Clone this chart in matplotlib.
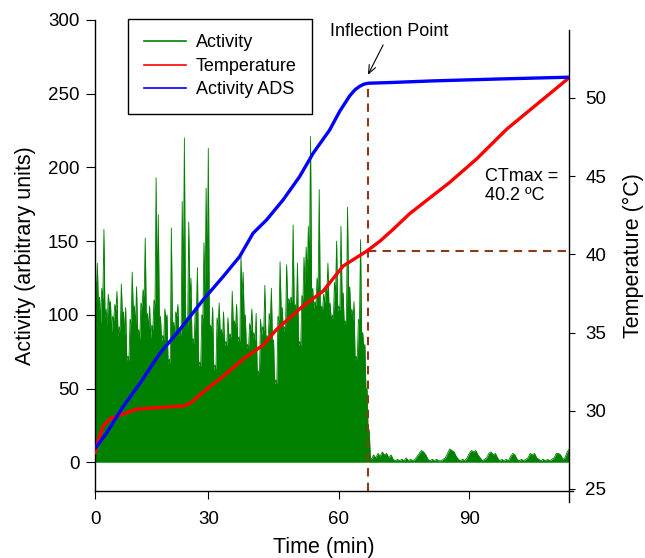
import numpy as np
import matplotlib.pyplot as plt
from matplotlib.lines import Line2D

plt.rcParams['font.family'] = ['Liberation Sans', 'DejaVu Sans']

# activity while moving: one peak every 0.5 min from the start of the record,
# each followed by the lower level reached before the next one
ACT_T0 = 4.0
activity_peaks = [
    126, 135, 112, 118, 158, 104, 114, 109, 99, 107,
    116, 92, 121, 102, 105, 72, 97, 129, 106, 119,
    90, 108, 117, 152, 101, 106, 93, 110, 193, 168,
    99, 86, 104, 100, 70, 159, 95, 102, 107, 89,
    177, 220, 98, 163, 125, 84, 105, 132, 68, 100,
    149, 186, 213, 93, 105, 66, 98, 108, 90, 102,
    82, 98, 87, 116, 96, 107, 85, 140, 129, 100,
    80, 94, 104, 88, 101, 62, 97, 92, 120, 86,
    101, 118, 83, 56, 99, 136, 105, 92, 134, 111,
    112, 161, 107, 135, 82, 113, 139, 146, 160, 221,
    118, 109, 125, 185, 106, 114, 119, 135, 108, 100,
    122, 150, 106, 160, 115, 96, 173, 119, 104, 109,
    72, 97, 151, 88, 80, 50, 22,
]
activity_between = [
    117, 102, 94, 110, 98, 92, 106, 88, 96, 103,
    85, 89, 99, 86, 69, 69, 94, 102, 91, 87,
    83, 105, 112, 95, 90, 84, 90, 107, 114, 93,
    82, 83, 97, 67, 67, 92, 88, 99, 85, 86,
    118, 95, 92, 110, 81, 80, 101, 65, 65, 97,
    116, 122, 90, 88, 63, 63, 93, 86, 83, 79,
    79, 84, 84, 92, 90, 82, 82, 112, 97, 77,
    77, 89, 84, 82, 59, 59, 86, 89, 83, 82,
    96, 80, 53, 53, 96, 102, 88, 89, 108, 108,
    109, 104, 102, 79, 79, 110, 120, 126, 132, 114,
    104, 106, 118, 103, 102, 108, 116, 104, 96, 97,
    114, 102, 103, 112, 93, 93, 116, 100, 96, 69,
    69, 94, 85, 77, 47, 18, 3,
]

# residual activity after the inflection point, every 0.5 min
REST_T0 = 67.5
activity_rest = [
    2, 5, 3, 6, 4, 7, 5, 6, 3, 5, 2, 1, 2, 1, 2, 1, 3, 1, 2, 1,
    2, 4, 6, 8, 7, 5, 2, 1, 2, 1, 2, 1, 1, 2, 3, 6, 9, 8, 7, 4,
    2, 1, 2, 1, 3, 6, 8, 7, 8, 5, 3, 1, 2, 3, 6, 7, 5, 6, 3, 1,
    2, 1, 2, 1, 4, 6, 5, 2, 1, 2, 1, 2, 3, 6, 5, 6, 3, 2, 1, 2,
    1, 2, 1, 2, 3, 6, 6, 5, 2, 3, 7, 9,
]

# accumulated activity (ADS)
ads_time = [4.0, 6.6, 10.4, 14.3, 18.9, 23.4, 28.8, 33.4, 37.2, 40.3, 43.4,
            47.2, 51.0, 54.1, 57.9, 60.2, 62.5, 63.7, 64.8, 65.8, 66.7, 72.0,
            81.7, 97.0, 113.0]
ads_value = [9.5, 19.7, 37.7, 53.6, 74.0, 89.8, 110.1, 125.9, 139.5, 155.4, 164.4,
             178.0, 193.8, 209.6, 225.4, 238.0, 248.5, 252.6, 255.0, 256.5, 257.1, 257.6,
             258.7, 260.0, 261.2]

# water temperature (deg C)
temp_time = [4.0, 4.7, 5.8, 7.4, 8.5, 13.5, 18.1, 24.2, 25.7, 27.2, 28.8, 33.4,
             38.0, 42.6, 45.7, 51.8, 56.4, 61.0, 64.1, 66.4, 69.5, 72.5, 76.3,
             85.5, 91.7, 98.6, 113.0]
temp_value = [27.3, 28.1, 29.0, 29.5, 29.6, 30.1, 30.2, 30.3, 30.45, 30.8, 31.2, 32.2,
              33.3, 34.2, 35.2, 36.7, 37.65, 39.25, 39.8, 40.2, 40.85, 41.6, 42.6,
              44.6, 46.1, 48.0, 51.3]

T_INFLECTION = 66.7
CTMAX = 40.2

activity = np.column_stack([activity_peaks, activity_between]).ravel()
act_time = ACT_T0 + 0.25 * np.arange(len(activity))
rest_time = REST_T0 + 0.5 * np.arange(len(activity_rest))
all_time = np.concatenate([act_time, rest_time])
all_activity = np.concatenate([activity, activity_rest])

fig = plt.figure(figsize=(6.45, 5.58), dpi=100)
ax = fig.add_axes([95.3 / 645, 1 - 490.7 / 558, 474 / 645, 470.7 / 558])
ax2 = ax.twinx()

ax.set_xlim(4.02, 113.0)
ax.set_ylim(-19.3, 300)
ax2.set_ylim(24.89, 54.98)

green = '#008000'
brown = '#8b3a1a'
ads_at_inflection = np.interp(T_INFLECTION, ads_time, ads_value)

ax.fill_between(all_time, 0, all_activity, color=green, lw=0, zorder=1)
ax.plot(all_time, all_activity, color=green, lw=0.6, zorder=1)
ax.plot([T_INFLECTION, T_INFLECTION], [-19.3, ads_at_inflection], color=brown,
        lw=1.5, ls=(0, (4, 3)), zorder=2)
ax.plot([T_INFLECTION, 113.0], [CTMAX, CTMAX], color=brown, lw=1.5,
        ls=(0, (4, 3)), transform=ax2.transData, zorder=2)
ax.plot(temp_time, temp_value, color='#ff0000', lw=2.4, transform=ax2.transData,
        zorder=3, solid_capstyle='round', solid_joinstyle='round')
ax.plot(ads_time, ads_value, color='#0000ff', lw=2.4, zorder=4,
        solid_capstyle='round', solid_joinstyle='round')

# spines and ticks
for s in ['top', 'right']:
    ax.spines[s].set_visible(False)
for s in ['top', 'left', 'bottom']:
    ax2.spines[s].set_visible(False)
ax.spines['left'].set_linewidth(1.0)
ax.spines['bottom'].set_linewidth(1.0)
ax.spines['bottom'].set_bounds(4.02, 113.8)
ax2.spines['right'].set_linewidth(1.0)
ax2.spines['right'].set_bounds(24.17, 54.34)

ax.set_xticks([4.02, 30, 60, 90])
ax.set_xticklabels(['0', '30', '60', '90'])
ax.set_yticks([0, 50, 100, 150, 200, 250, 300])
ax2.set_yticks([25, 30, 35, 40, 45, 50])

ax.tick_params(axis='y', direction='out', length=6.5, width=0.8, pad=5, labelsize=13.5)
ax.tick_params(axis='x', direction='out', length=5.5, width=0.8, pad=9, labelsize=13.5)
ax2.tick_params(axis='y', direction='out', length=4.5, width=0.8, pad=7, labelsize=13.5)

ax.set_xlabel('Time (min)', fontsize=15.5, va='top')
ax.xaxis.set_label_coords(0.4825, -0.098)
ax.set_ylabel('Activity (arbitrary units)', fontsize=15.5)
ax.yaxis.set_label_coords(-0.125, 0.5)
ax2.set_ylabel('Temperature (°C)', fontsize=15.5)
ax2.yaxis.set_label_coords(1.113, 0.5)

# annotations
ax.annotate('', xy=(T_INFLECTION, 262.8), xytext=(70.2, 283.1),
            arrowprops=dict(arrowstyle='->, head_length=0.6, head_width=0.25',
                            lw=0.8, color='black', shrinkA=0, shrinkB=0))
ax.text(71.7, 291.9, 'Inflection Point', fontsize=13, ha='center', va='center')
ax2.text(93.6, 45.5, 'CTmax =\n{:.1f} ºC'.format(CTMAX), fontsize=13,
         ha='left', va='top', linespacing=1.1)

handles = [Line2D([], [], color=green, lw=1.2),
           Line2D([], [], color='#ff0000', lw=1.2),
           Line2D([], [], color='#0000ff', lw=1.2)]
leg = ax.legend(handles, ['Activity', 'Temperature', 'Activity ADS'],
                loc='upper left', bbox_to_anchor=(0.0696, 1.002), borderaxespad=0,
                fontsize=13, fancybox=False, edgecolor='black', framealpha=1,
                handlelength=2.33, handletextpad=0.55, borderpad=0.85,
                labelspacing=0.36)
leg.get_frame().set_linewidth(1.0)
leg.set_zorder(10)

fig.savefig('out.png', dpi=100)
